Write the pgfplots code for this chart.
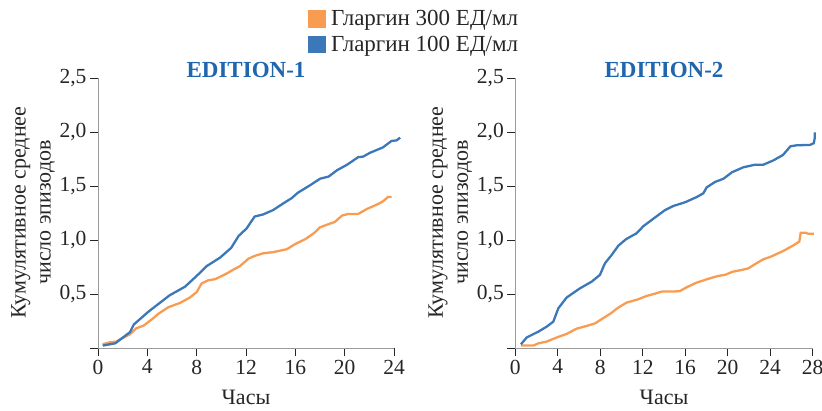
\documentclass[border=0pt]{standalone}
\usepackage{pgfplots}
\pgfplotsset{compat=1.18}
\usepackage{fontspec}
\setmainfont{Liberation Serif}
\definecolor{cOr}{HTML}{F89C52}
\definecolor{cBl}{HTML}{3C78B8}
\definecolor{cTi}{HTML}{1F66AE}
\definecolor{cAx}{HTML}{9A9A9A}
\pgfplotsset{
  myax/.style={
    scale only axis, width=#1, height=270pt,
    anchor=south west,
    axis x line=bottom, axis y line=left,
    axis line style={-, cAx, line width=1pt},
    tick style={black!85, line width=0.9pt},
    tick align=outside, major tick length=8pt,
    ymin=0, ymax=2.5,
    ytick={0,0.5,1,1.5,2,2.5},
    yticklabels={,{0,5},{1,0},{1,5},{2,0},{2,5}},
    tick label style={font=\rmfamily\fontsize{21.5}{24}\selectfont, text=black!85},
    xlabel={Часы},
    xlabel style={font=\rmfamily\fontsize{22}{24}\selectfont, text=black!85,
      at={(rel axis cs:0.5,0)}, anchor=base, yshift=-56.7pt},
    clip=false,
  },
}
\begin{document}
\begin{tikzpicture}[x=1pt,y=1pt]
\path[use as bounding box] (0,0) rectangle (822,411);
% left panel
\begin{axis}[myax=296pt, at={(98pt,62.7pt)},
  xmin=0, xmax=24, xtick={0,4,8,12,16,20,24},
  xticklabels={0,4,8,12,16,20,24},
  legend style={draw=none, fill=none, at={(rel axis cs:0.709,1.259)}, anchor=north west,
    font=\rmfamily\fontsize{23}{25}\selectfont, text=black!85, inner sep=0pt, row sep=5pt},
  legend cell align=left,
  legend image code/.code={\fill[#1] (0pt,-7.5pt) rectangle (15.5pt,7.5pt);
    \path[draw=none] (0pt,0pt) -- (20pt,0pt);},
]
\addplot[cOr, line width=2.3pt] coordinates {
(0.38,0.037)(0.97,0.056)(1.5,0.062)(1.9,0.09)(2.6,0.13)(3.1,0.185)(3.7,0.21)
(4.5,0.28)(4.9,0.32)(5.7,0.38)(6.65,0.42)(7.45,0.47)(8.0,0.52)(8.4,0.60)
(8.95,0.63)(9.5,0.64)(10.4,0.69)(11.0,0.73)(11.5,0.76)(12.2,0.83)(12.7,0.855)
(13.4,0.88)(14.2,0.89)(14.8,0.905)(15.3,0.917)(16.0,0.966)(16.8,1.01)(17.5,1.065)
(18.0,1.12)(18.7,1.15)(19.2,1.17)(19.8,1.23)(20.3,1.244)(21.1,1.244)(21.8,1.29)
(22.6,1.33)(23.1,1.36)(23.5,1.40)(23.8,1.40)};
\addlegendentry{Гларгин 300 ЕД/мл}
\addplot[cBl, line width=2.3pt] coordinates {
(0.38,0.025)(1.4,0.046)(2.6,0.15)(2.9,0.22)(4.1,0.34)(5.8,0.49)(7.05,0.57)
(8.0,0.67)(8.8,0.76)(9.9,0.84)(10.8,0.93)(11.4,1.04)(12.05,1.11)(12.7,1.22)
(13.4,1.24)(14.2,1.28)(15.0,1.34)(15.7,1.39)(16.2,1.44)(17.2,1.51)(18.0,1.57)
(18.7,1.59)(19.4,1.65)(20.2,1.70)(21.1,1.77)(21.5,1.775)(22.05,1.81)(23.1,1.86)
(23.8,1.92)(24.2,1.925)(24.5,1.95)};
\addlegendentry{Гларгин 100 ЕД/мл}
\node[font=\rmfamily\fontsize{23}{25}\selectfont\bfseries, text=cTi, anchor=base] at (rel axis cs:0.5,1) [yshift=1pt] {EDITION-1};
\end{axis}
\node[rotate=90, align=center, font=\rmfamily\fontsize{22}{25}\selectfont, text=black!85] at (33,198.5) {Кумулятивное среднее\\число эпизодов};
% right panel
\begin{axis}[myax=297.4pt, at={(515.3pt,62.7pt)},
  xmin=0, xmax=28, xtick={0,4,8,12,16,20,24,28},
  xticklabels={0,4,8,12,16,20,24,28},
]
\addplot[cOr, line width=2.3pt] coordinates {
(0.53,0.025)(1.7,0.025)(2.17,0.046)(2.95,0.062)(3.9,0.10)(4.83,0.133)(5.78,0.182)
(6.72,0.207)(7.5,0.23)(8.13,0.27)(8.91,0.318)(9.7,0.377)(10.48,0.423)(11.58,0.454)
(12.37,0.485)(13.3,0.51)(13.78,0.525)(14.88,0.525)(15.5,0.53)(16.13,0.565)
(17.07,0.608)(18.33,0.648)(19.1,0.67)(19.74,0.68)(20.5,0.71)(21.3,0.725)
(21.94,0.74)(22.7,0.787)(23.35,0.824)(24.1,0.85)(25.2,0.90)(26.2,0.954)
(26.74,0.988)(26.87,1.07)(27.3,1.07)(27.6,1.06)(28.1,1.06)};
\addplot[cBl, line width=2.3pt] coordinates {
(0.53,0.037)(1.07,0.10)(2.17,0.154)(2.95,0.20)(3.58,0.247)(4.05,0.37)(4.83,0.47)
(6.1,0.556)(7.19,0.617)(7.97,0.68)(8.44,0.787)(9.07,0.864)(9.7,0.95)(10.42,1.01)
(11.42,1.065)(12.05,1.13)(13.0,1.20)(14.1,1.28)(14.88,1.318)(15.98,1.352)
(17.07,1.40)(17.7,1.435)(18.02,1.49)(18.8,1.54)(19.6,1.57)(20.4,1.63)(21.47,1.676)
(22.57,1.70)(23.35,1.70)(24.3,1.74)(25.2,1.79)(25.9,1.87)(26.5,1.88)(27.75,1.883)
(28.1,1.90)(28.2,1.95)(28.2,2.0)};
\node[font=\rmfamily\fontsize{23}{25}\selectfont\bfseries, text=cTi, anchor=base] at (rel axis cs:0.5,1) [yshift=1pt] {EDITION-2};
\end{axis}
\node[rotate=90, align=center, font=\rmfamily\fontsize{22}{25}\selectfont, text=black!85] at (450.3,198.5) {Кумулятивное среднее\\число эпизодов};
\end{tikzpicture}
\end{document}
